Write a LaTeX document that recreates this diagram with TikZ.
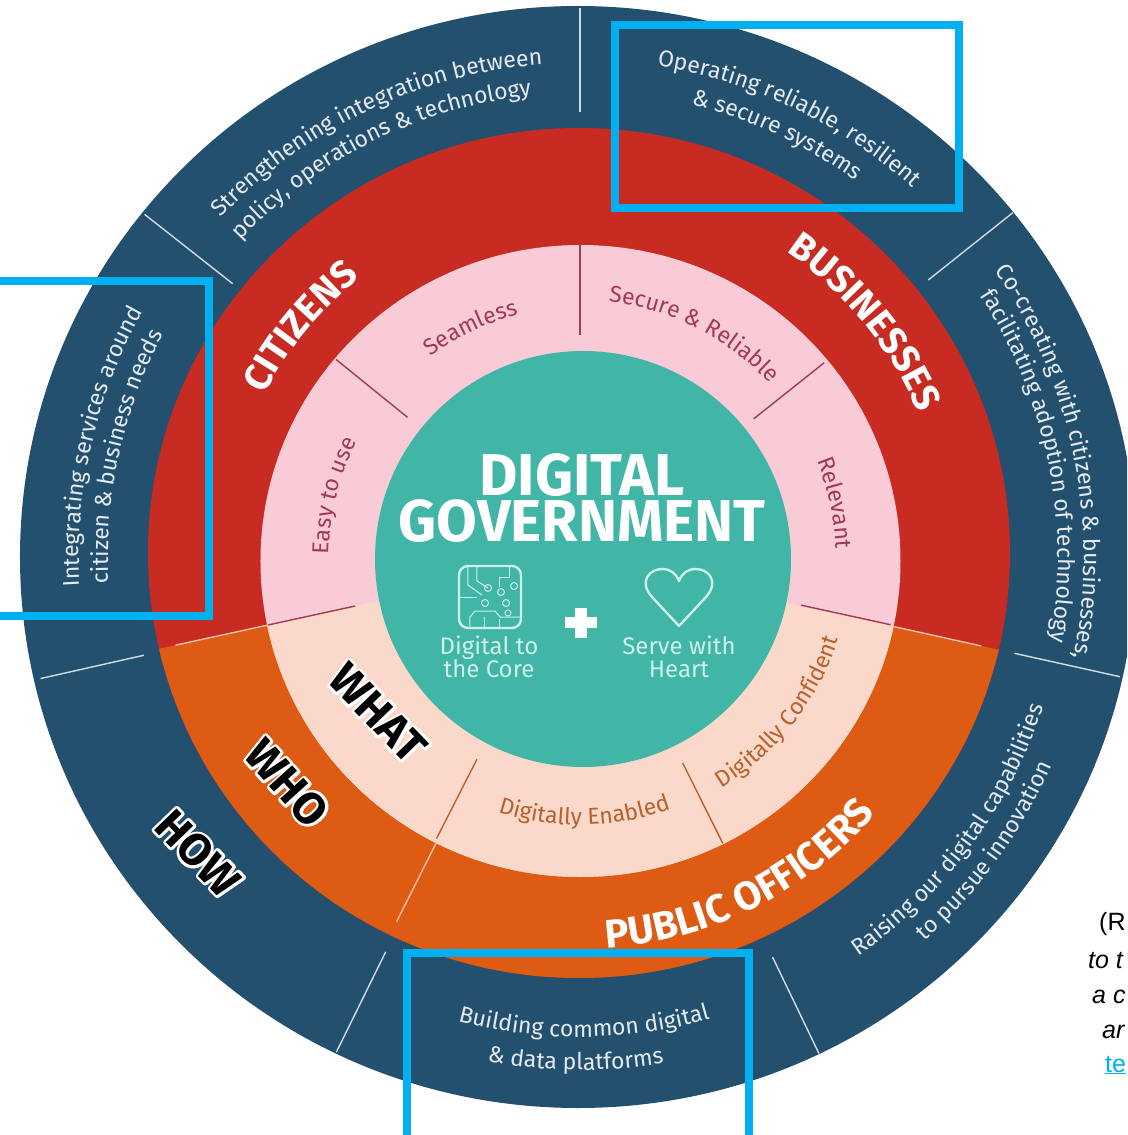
\documentclass[tikz,border=0pt]{standalone}
\usepackage{fontspec}
\usetikzlibrary{decorations.text}
\setmainfont{Fira Sans}
\newfontfamily\notefont{Liberation Sans}
\newfontfamily\halofont[FakeBold=12]{Fira Sans}[BoldFeatures={FakeBold=12}]
\definecolor{navy}{HTML}{24506F}
\definecolor{brick}{HTML}{C82B22}
\definecolor{rust}{HTML}{DE5B14}
\definecolor{blush}{HTML}{F8CBD7}
\definecolor{peach}{HTML}{FBD9CA}
\definecolor{jade}{HTML}{41B5A6}
\definecolor{frame}{HTML}{00B0F0}
\definecolor{mint}{HTML}{CDF1EB}
\definecolor{wine}{HTML}{A23A52}
\definecolor{tan}{HTML}{B8612C}
\newcommand{\arccw}[4]{\path[decorate,decoration={text along path,text align=center,text={|#3|#4}}] (#1+50:#2) arc[start angle=#1+50,end angle=#1-50,radius=#2];}
\newcommand{\arcccw}[4]{\path[decorate,decoration={text along path,text align=center,text={|#3|#4}}] (#1-50:#2) arc[start angle=#1-50,end angle=#1+50,radius=#2];}
\newcommand{\halo}[1]{\special{pdf:code 1 j}\rlap{\halofont\bfseries\color{white}#1}#1}
\newcommand{\outerfont}{\fontsize{23}{23}\selectfont\color{white!88!navy}}
\newcommand{\pinkfont}{\fontsize{23}{23}\selectfont\color{wine}}
\newcommand{\peachfont}{\fontsize{23}{23}\selectfont\color{tan}}
\newcommand{\whofont}{\fontsize{38}{38}\selectfont\bfseries\color{white}}
\newcommand{\officerfont}{\fontsize{40}{40}\selectfont\bfseries\color{white}}
\begin{document}
\begin{tikzpicture}[
		x=1pt, y=1pt,
		divider/.style = {line width=1.4pt},
		frameline/.style = {draw=frame, line width=7.5pt},
		tag/.style = {font=\fontsize{45}{45}\selectfont\bfseries, text=black, inner sep=0pt},
		title/.style = {font=\fontsize{59}{59}\selectfont\bfseries, text=white, inner sep=0pt},
		caption/.style = {font=\fontsize{24}{24}\selectfont, text=mint, align=center, inner sep=0pt},
		icon/.style = {draw=mint, line width=2.4pt},
		trace/.style = {draw=mint, line width=1pt},
		note/.style = {font=\notefont\fontsize{25}{25}\selectfont, anchor=base west, inner sep=0pt},
		slanted/.style = {font=\notefont\itshape\fontsize{25}{25}\selectfont}
	]
	\clip (-580,-578) rectangle (547,557);
	% Rings.
	\fill[navy] (-2,0) ellipse [x radius=558, y radius=551];
	\begin{scope}
		\clip (-1,4) ellipse [x radius=431, y radius=425];
		\fill[brick] (-1,4) circle (440);
		\fill[rust] (192.3:460) arc (192.3:347.5:460) -- (0,0) -- cycle;
	\end{scope}
	\begin{scope}
		\clip (0.5,-4) ellipse [x radius=320, y radius=316];
		\fill[blush] (0.5,-4) circle (330);
		\fill[peach] (192.3:340) arc (192.3:347.5:340) -- (0,0) -- cycle;
	\end{scope}
	\fill[jade] (3,-2) circle (208);
	% Dividers of the outer ring.
	\draw[divider, white!80!navy] (90:445) -- (90:549);
	\draw[divider, white!80!navy] (141.8:442) -- (141.8:554);
	\draw[divider, white!80!navy] (38.5:445) -- (38.5:553);
	\draw[divider, white!80!navy] (-12.5:445) -- (-12.5:553);
	\draw[divider, white!80!navy] (192.7:447) -- (192.7:553);
	\draw[divider, white!80!navy] (243.8:440) -- (243.8:552);
	\draw[divider, white!80!navy] (-64.3:444) -- (-64.3:551);
	% Dividers of the red and orange ring.
	\draw[divider, peach!80!rust] (192.3:318) -- (192.3:414);
	\draw[divider, peach!80!rust] (-12.5:322) -- (-12.5:411);
	\draw[divider, peach!80!rust] (243.3:320) -- (243.3:408);
	% Dividers of the inner ring.
	\draw[divider, wine] (90:222) -- (90:312);
	\draw[divider, wine] (141:222) -- (141:314);
	\draw[divider, wine] (38.5:222) -- (38.5:312);
	\draw[divider, wine] (192.3:230) -- (192.3:319);
	\draw[divider, wine] (-12.3:226) -- (-12.3:318);
	\draw[divider, tan] (243:227) -- (243:316);
	\draw[divider, tan] (-63.5:230) -- (-63.5:320);
	% Outer ring texts.
	\arccw{115.5}{494}{\outerfont}{Strengthening integration between}
	\arccw{116.5}{464}{\outerfont}{policy, operations {\&} technology}
	\arccw{64.5}{497}{\outerfont}{Operating reliable, resilient}
	\arccw{65}{466}{\outerfont}{{\&} secure systems}
	\arccw{11.5}{504}{\outerfont}{Co-creating with citizens {\&} businesses,}
	\arccw{11.5}{478}{\outerfont}{facilitating adoption of technology}
	\arcccw{-36.5}{487}{\outerfont}{Raising our digital capabilities}
	\arcccw{-36}{516}{\outerfont}{to pursue innovation}
	\arcccw{-89.5}{480}{\outerfont}{Building common digital}
	\arcccw{-90.5}{513}{\outerfont}{{\&} data platforms}
	\arccw{167}{501}{\outerfont}{Integrating services around}
	\arccw{167.5}{472}{\outerfont}{citizen {\&} business needs}
	% Audience names.
	\arccw{140.5}{355}{\whofont}{CITIZENS}
	\arccw{39.5}{368}{\whofont}{BUSINESSES}
	\arcccw{-63.5}{392}{\officerfont}{PUBLIC OFFICERS}
	% Inner ring texts.
	\arccw{115.5}{250}{\pinkfont}{Seamless}
	\arccw{63}{257}{\pinkfont}{Secure {\&} Reliable}
	\arccw{12}{256}{\pinkfont}{Relevant}
	\arccw{166}{251}{\pinkfont}{Easy to use}
	\arcccw{-89}{268}{\peachfont}{Digitally Enabled}
	\arcccw{-38}{271}{\peachfont}{Digitally Confident}
	% Row tags.
	\node[tag, rotate=-46] (what) at (-202,-156) {\halo{WHAT}};
	\node[tag, rotate=-48] (who) at (-293,-226) {\halo{WHO}};
	\node[tag, rotate=-46] (how) at (-382,-296) {\halo{HOW}};
	% Centre.
	\node[title] (digital) at (2,82) {DIGITAL};
	\node[title] (government) at (2,36) {GOVERNMENT};
	\draw[icon, rounded corners=9pt] (-121,-9) rectangle (-59,-71);
	\draw[trace] (-112,-9) -- (-112,-28) -- (-98,-38);
	\draw[trace] (-103,-9) -- (-103,-24) -- (-92,-31);
	\draw[trace] (-70,-9) -- (-70,-20) -- (-80,-20) -- (-80,-30);
	\draw[trace] (-121,-40) -- (-103,-40);
	\draw[trace] (-59,-60) -- (-80,-60) -- (-85,-54) -- (-105,-54) -- (-110,-60) -- (-110,-71);
	\draw[trace] (-95,-71) -- (-95,-60);
	\draw[trace] (-80,-71) -- (-80,-62);
	\draw[trace] (-66,-29) circle (3.5);
	\draw[trace] (-79,-35) circle (3.5);
	\draw[trace] (-92,-31) circle (3.5);
	\draw[trace] (-74,-46) circle (3.5);
	\draw[trace] (-95,-46) circle (3.5);
	\draw[trace] (-72,-56) circle (3);
	\draw[icon, line join=round] (99,-69) -- (72,-40) .. controls (58,-24) and (70,-12) .. (82,-12) .. controls (90,-12) and (96,-16) .. (99,-24) .. controls (102,-16) and (108,-12) .. (116,-12) .. controls (128,-12) and (140,-24) .. (126,-40) -- cycle;
	\node[caption] (core) at (-91,-100) {Digital to\\[-1pt]the Core};
	\node[caption] (heart) at (99,-100) {Serve with\\[-1pt]Heart};
	\fill[white] (-5,-81) rectangle (7,-51);
	\fill[white] (-15,-71) rectangle (17,-60);
	% Frames.
	\draw[frameline] (35,532) rectangle (379,349);
	\draw[frameline] (-600,276) rectangle (-371,-59);
	\draw[frameline] (-173,-396) rectangle (169,-600);
	% Cut-off note at the right edge.
	\node[note] (noteone) at (519,-373) {(R};
	\node[note, slanted] (notetwo) at (508,-411) {to t};
	\node[note, slanted] (notethree) at (512,-446) {a c};
	\node[note, slanted] (notefour) at (522,-481) {ar};
	\node[note, text=frame] (notefive) at (525,-515) {\underline{te}};
\end{tikzpicture}
\end{document}
